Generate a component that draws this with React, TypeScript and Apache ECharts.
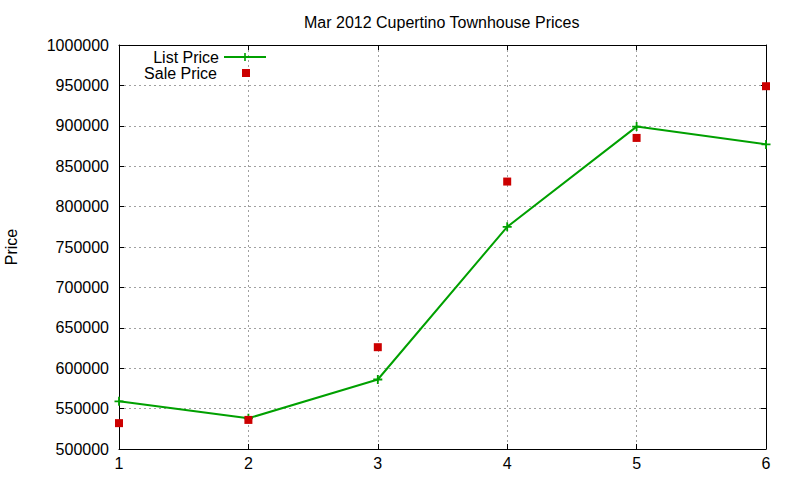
import { useEffect, useRef } from "react";
import * as echarts from "echarts";

// months 1..6, values
const months = [1, 2, 3, 4, 5, 6];
const listPrice = [559000, 538000, 586000, 775000, 899000, 877000];
const salePrice = [532000, 536000, 626000, 831000, 885000, 949000];
const titleText = "Mar 2012 Cupertino Townhouse Prices";

const FONT = "'Liberation Sans', Arial, sans-serif";
const GREEN = "#00a000";
const RED = "#cc0000";
const CROSS = "path://M4,0 L6,0 L6,4 L10,4 L10,6 L6,6 L6,10 L4,10 L4,6 L0,6 L0,4 L4,4 Z";

export default function App() {
  const ref = useRef<HTMLDivElement>(null);

  useEffect(() => {
    if (!ref.current) return;
    const chart = echarts.init(ref.current, null, { renderer: "svg" });

    const label = { color: "#000", fontFamily: FONT, fontSize: 16 };
    const grid = { lineStyle: { color: "#a0a0a0", type: [2, 3], width: 1 } };
    const axisLine = { show: true, lineStyle: { color: "#000", width: 1 } };
    const tick = { show: true, inside: true, length: 5, lineStyle: { color: "#000" } };

    chart.setOption({
      animation: false,
      backgroundColor: "#fff",
      title: {
        text: titleText,
        left: 299,
        top: 9,
        textStyle: { color: "#000", fontFamily: FONT, fontSize: 16, fontWeight: "normal" },
      },
      // gnuplot style key: text right-aligned, sample to the right
      legend: [
        {
          data: ["List Price"],
          orient: "vertical",
          align: "right",
          right: 528,
          top: 44,
          itemWidth: 42,
          itemHeight: 10,
          textStyle: { ...label, lineHeight: 14 },
        },
        {
          data: ["Sale Price"],
          orient: "vertical",
          align: "right",
          right: 545,
          top: 60,
          itemWidth: 8,
          itemHeight: 8,
          textStyle: { ...label, lineHeight: 14, padding: [0, 20, 0, 0] },
          itemStyle: { opacity: 1 },
        },
      ],
      grid: { left: 119, right: 34, top: 45, bottom: 31, outerBoundsMode: "none" },
      xAxis: [
        {
          type: "value",
          min: 1,
          max: 6,
          interval: 1,
          axisLine,
          axisTick: tick,
          axisLabel: { ...label, margin: 6 },
          splitLine: { show: true, ...grid },
        },
        {
          type: "value",
          position: "top",
          min: 1,
          max: 6,
          interval: 1,
          axisLine,
          axisTick: tick,
          axisLabel: { show: false },
          splitLine: { show: false },
        },
      ],
      yAxis: [
        {
          type: "value",
          min: 500000,
          max: 1000000,
          interval: 50000,
          name: "Price",
          nameLocation: "middle",
          nameRotate: 90,
          nameGap: 100,
          nameTextStyle: label,
          axisLine,
          axisTick: tick,
          axisLabel: { ...label, margin: 10, formatter: (v: number) => String(v) },
          splitLine: { show: true, ...grid },
        },
        {
          type: "value",
          position: "right",
          min: 500000,
          max: 1000000,
          interval: 50000,
          axisLine,
          axisTick: tick,
          axisLabel: { show: false },
          splitLine: { show: false },
        },
      ],
      series: [
        {
          name: "List Price",
          type: "line",
          data: months.map((m, i) => [m, listPrice[i]]),
          symbol: CROSS,
          symbolSize: 9,
          showSymbol: true,
          lineStyle: { color: GREEN, width: 2 },
          itemStyle: { color: GREEN },
          z: 3,
        },
        {
          name: "Sale Price",
          type: "scatter",
          data: months.map((m, i) => [m, salePrice[i]]),
          symbol: "rect",
          symbolSize: 8,
          itemStyle: { color: RED, opacity: 1 },
          z: 4,
        },
      ],
    });

    return () => chart.dispose();
  }, []);

  return (
    <div
      ref={ref}
      style={{ position: "absolute", left: 0, top: 0, width: 800, height: 480 }}
    />
  );
}
